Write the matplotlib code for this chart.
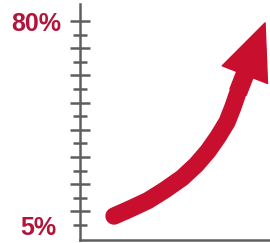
import matplotlib
matplotlib.use("Agg")
import matplotlib.pyplot as plt
from matplotlib.ticker import FixedLocator, FixedFormatter

plt.rcParams['font.family'] = ['Liberation Sans', 'DejaVu Sans']
plt.rcParams['font.weight'] = 'bold'

# --- data ---
years = [1.79, 2.63, 3.58, 4.47, 5.37, 6.11, 6.74, 7.26, 7.74, 8.05, 8.32]
share = [8.3, 10.9, 14.0, 17.9, 22.3, 27.1, 32.2, 37.4, 42.9, 48.4, 53.9]
tip = (9.74, 79.3)

major_ticks = [10, 20, 30, 40, 50, 60, 70, 80]
minor_ticks = [5, 15, 25, 35, 45, 55, 65, 75]
major_labels = ["", "", "", "", "", "", "", "80%"]
minor_labels = ["5%", "", "", "", "", "", "", ""]

red = "#c8102e"
text_red = "#b3143a"
grey = "#5e5e5e"

fig = plt.figure(figsize=(2.7, 2.43), dpi=100)
ax = fig.add_axes([80 / 270, 3 / 243, 190 / 270, 236 / 243])

# curve + arrow head
ax.plot(years, share, color=red, lw=12.5, solid_capstyle='round',
        solid_joinstyle='round', clip_on=False)
ax.annotate("", xy=tip, xytext=(years[-1], share[-1]),
            arrowprops=dict(color=red, width=12.5, headwidth=35,
                            headlength=40, shrink=0), annotation_clip=False)

ax.set_xlim(0, 10)
ax.set_ylim(-0.5, 86.25)

for side in ['top', 'right']:
    ax.spines[side].set_visible(False)
for side in ['left', 'bottom']:
    ax.spines[side].set_color(grey)
    ax.spines[side].set_linewidth(1.8)

ax.set_xticks([])
ax.yaxis.set_major_locator(FixedLocator(major_ticks))
ax.yaxis.set_major_formatter(FixedFormatter(major_labels))
ax.yaxis.set_minor_locator(FixedLocator(minor_ticks))
ax.yaxis.set_minor_formatter(FixedFormatter(minor_labels))
ax.tick_params(axis='y', which='major', direction='inout', length=15,
               width=1.8, color=grey, pad=6, labelsize=18,
               labelcolor=text_red)
ax.tick_params(axis='y', which='minor', direction='inout', length=9.5,
               width=1.8, color=grey, pad=12, labelsize=18,
               labelcolor=text_red)

fig.savefig("out.png", dpi=100)
